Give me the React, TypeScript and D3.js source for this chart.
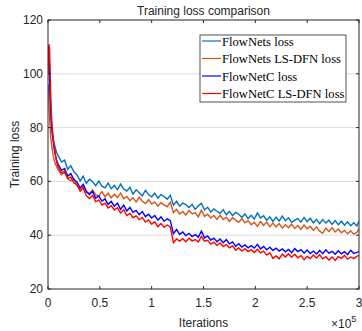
import React from 'react';
import * as d3 from 'd3';

// iterations (x 10^5): dense at the start, then every 0.03
const earlyIters = [0, 0.005, 0.01, 0.015, 0.02, 0.025, 0.03, 0.04, 0.05, 0.06, 0.07, 0.08, 0.09];
const iters = [...earlyIters, ...d3.range(0, 97).map(k => +(0.1 + 0.03 * k).toFixed(2)), 3.0];

const flowNetS = [
  108, 110, 103, 97, 92, 87, 84, 79, 76, 74, 72.5, 71, 70.2,
  69.5, 67.2, 67.9, 64.5, 65.8, 63.6, 62.4, 60.2, 61.9, 59.3,
  60.8, 59.9, 58.4, 60.1, 58.2, 57.6, 59.4, 57.3, 58.5, 56.9,
  59.0, 57.2, 56.4, 57.8, 55.3, 56.9, 55.8, 54.6, 56.7, 55.1,
  54.3, 55.6, 53.8, 55.1, 54.4, 53.4, 54.9, 51.2, 52.6, 50.8,
  51.9, 51.4, 50.3, 51.5, 49.6, 50.9, 51.8, 49.4, 50.4, 48.6,
  49.8, 48.9, 48.1, 49.5, 47.6, 48.9, 47.3, 48.5, 47.8, 46.6,
  47.9, 46.2, 47.4, 46.0, 48.3, 46.4, 47.2, 45.5, 46.8, 45.1,
  46.7, 45.3, 47.1, 45.4, 46.5, 44.8, 45.6, 46.2, 44.9, 46.6,
  45.0, 46.3, 44.6, 45.9, 44.3, 45.8, 44.5, 45.6, 44.0, 45.4,
  43.9, 45.2, 43.7, 45.0, 43.5, 44.6, 43.4, 45.3,
];

const flowNetSDfn = [
  95, 96, 88, 84, 80, 77, 75, 72, 69.5, 68, 66.5, 65.8, 64.9,
  64.2, 62.5, 63.4, 61.0, 60.2, 60.9, 58.4, 57.1, 58.3, 56.2,
  55.4, 56.8, 55.1, 54.5, 56.2, 54.3, 55.6, 53.9, 55.2, 54.0,
  55.7, 53.6, 54.4, 52.8, 53.9, 52.4, 54.1, 52.6, 51.8, 53.2,
  51.6, 52.4, 50.8, 52.1, 51.3, 50.6, 52.3, 48.4, 49.6, 47.9,
  48.8, 47.5, 49.2, 47.9, 48.4, 46.8, 49.3, 47.0, 47.8, 46.4,
  47.3, 45.9, 47.4, 45.8, 46.7, 45.1, 46.5, 45.6, 44.8, 46.2,
  44.6, 45.4, 43.9, 44.8, 43.3, 45.1, 43.6, 44.9, 43.2, 44.5,
  43.1, 44.3, 42.6, 43.9, 42.8, 44.1, 42.5, 43.6, 42.2, 43.8,
  42.4, 43.3, 41.8, 43.1, 41.5, 40.7, 42.6, 41.4, 42.8, 41.2,
  42.3, 40.9, 41.8, 40.5, 41.6, 40.4, 41.1, 42.5,
];

const flowNetC = [
  104, 110, 108, 101, 94, 88, 83, 78, 75, 72, 70, 68.2, 67.1,
  66.3, 64.1, 64.8, 62.0, 62.9, 60.6, 59.8, 57.6, 58.9, 56.2,
  55.1, 56.3, 53.8, 54.6, 52.7, 53.5, 51.4, 52.6, 50.8, 51.9,
  49.6, 51.2, 49.0, 50.3, 48.5, 49.2, 47.6, 48.8, 46.9, 47.8,
  46.4, 47.3, 45.6, 46.8, 45.2, 46.1, 45.4, 40.6, 42.1, 40.3,
  41.2, 39.8, 40.7, 39.5, 40.2, 39.3, 41.5, 39.0, 39.7, 38.2,
  38.9, 37.6, 38.6, 37.2, 38.4, 36.8, 37.5, 35.9, 36.8, 35.6,
  36.4, 35.3, 36.1, 35.2, 36.6, 34.9, 35.8, 34.6, 35.5, 34.3,
  35.2, 34.1, 34.9, 33.8, 34.7, 33.5, 35.0, 33.9, 34.6, 33.4,
  34.5, 33.2, 34.1, 33.0, 34.3, 33.1, 34.6, 33.3, 34.0, 32.9,
  34.2, 33.1, 33.9, 32.8, 34.4, 33.2, 33.6, 33.9,
];

const flowNetCDfn = [
  100, 106, 111, 109, 102, 94, 87, 80, 76, 73, 70.5, 68, 66.2,
  65.1, 63.2, 63.9, 61.1, 61.6, 59.4, 58.8, 56.3, 57.5, 54.7,
  53.6, 54.8, 52.4, 53.1, 51.2, 51.9, 50.1, 51.0, 49.4, 50.2,
  48.2, 49.5, 47.3, 48.1, 46.5, 47.2, 45.8, 46.6, 44.9, 45.7,
  44.1, 45.0, 43.2, 44.3, 42.9, 43.8, 43.1, 37.2, 38.6, 37.8,
  38.7, 37.6, 38.9, 37.9, 38.4, 37.5, 39.6, 37.8, 38.1, 36.7,
  37.4, 36.2, 37.1, 35.8, 36.5, 35.3, 36.0, 34.4, 35.3, 34.1,
  35.0, 33.9, 34.6, 33.6, 34.8, 33.4, 34.1, 32.6, 33.5, 31.4,
  32.3, 31.2, 33.0, 31.9, 33.1, 31.8, 32.9, 31.6, 32.4, 30.9,
  32.1, 31.3, 32.6, 31.5, 32.8, 31.2, 32.0, 30.8, 31.9, 30.6,
  32.0, 31.4, 32.5, 31.1, 31.9, 31.3, 32.2, 32.4,
];

const seriesNames = ['FlowNets loss', 'FlowNets LS-DFN loss', 'FlowNetC loss', 'FlowNetC LS-DFN loss'];
const seriesValues = [flowNetS, flowNetSDfn, flowNetC, flowNetCDfn];
const seriesColors = ['#0072BD', '#D95319', '#0000FF', '#FF0000'];

const xTicks = [0, 0.5, 1, 1.5, 2, 2.5, 3];
const yTicks = [20, 40, 60, 80, 100, 120];

const W = 362;
const H = 331;
const m = { left: 48, right: 359, top: 20, bottom: 289 };
const sans = 'Liberation Sans, Arial, sans-serif';
const serif = 'Liberation Serif, Times New Roman, serif';
const ink = '#262626';

export default function App() {
  const x = d3.scaleLinear().domain([0, 3]).range([m.left, m.right]);
  const y = d3.scaleLinear().domain([20, 120]).range([m.bottom, m.top]);
  const line = d3.line<number>()
    .x((_, i) => x(iters[i]))
    .y(d => y(d));

  return (
    <svg width={W} height={H} style={{ position: 'absolute', left: 0, top: 0 }}>
      <rect width={W} height={H} fill="#fff" />
      <defs>
        <clipPath id="plot">
          <rect x={m.left} y={m.top} width={m.right - m.left} height={m.bottom - m.top} />
        </clipPath>
      </defs>
      {yTicks.slice(1, -1).map(t => (
        <line key={t} x1={m.left} x2={m.right} y1={y(t)} y2={y(t)} stroke="#dcdcdc" strokeWidth={1} />
      ))}
      <g clipPath="url(#plot)" fill="none" strokeWidth={1.4} strokeLinejoin="miter">
        {seriesValues.map((vals, i) => (
          <path key={i} d={line(vals) || ''} stroke={seriesColors[i]} />
        ))}
      </g>
      <rect x={m.left} y={m.top} width={m.right - m.left} height={m.bottom - m.top}
        fill="none" stroke={ink} strokeWidth={1} />
      {xTicks.map(t => (
        <g key={t}>
          <line x1={x(t)} x2={x(t)} y1={m.bottom} y2={m.bottom - 3} stroke={ink} />
          <line x1={x(t)} x2={x(t)} y1={m.top} y2={m.top + 3} stroke={ink} />
          <text x={x(t)} y={307} textAnchor="middle" fontFamily={sans} fontSize={12} fill={ink}>{t}</text>
        </g>
      ))}
      {yTicks.map(t => (
        <g key={t}>
          <line x1={m.left} x2={m.left + 3} y1={y(t)} y2={y(t)} stroke={ink} />
          <line x1={m.right} x2={m.right - 3} y1={y(t)} y2={y(t)} stroke={ink} />
          <text x={43} y={y(t) + 4} textAnchor="end" fontFamily={sans} fontSize={12} fill={ink}>{t}</text>
        </g>
      ))}
      <text x={(m.left + m.right) / 2} y={15} textAnchor="middle" fontFamily={sans} fontSize={12} fill={ink}>
        Training loss comparison
      </text>
      <text transform={`translate(19,${(m.top + m.bottom) / 2}) rotate(-90)`} textAnchor="middle"
        fontFamily={sans} fontSize={12} fill={ink}>Training loss</text>
      <text x={(m.left + m.right) / 2} y={327} textAnchor="middle" fontFamily={sans} fontSize={12} fill={ink}>
        Iterations
      </text>
      <text x={331} y={328} fontFamily={sans} fontSize={12} fill={ink}>
        ×10<tspan dy={-6} fontSize={9}>5</tspan>
      </text>
      <g>
        <rect x={200} y={35} width={146} height={67} fill="#fff" stroke={ink} strokeWidth={0.8} />
        {seriesNames.map((name, i) => (
          <g key={name} transform={`translate(0,${41 + i * 17.5})`}>
            <line x1={202} x2={221} y1={0} y2={0} stroke={seriesColors[i]} strokeWidth={1.2} />
            <text x={222} y={4.5} fontFamily={serif} fontSize={12.6} fill="#000">{name}</text>
          </g>
        ))}
      </g>
    </svg>
  );
}
